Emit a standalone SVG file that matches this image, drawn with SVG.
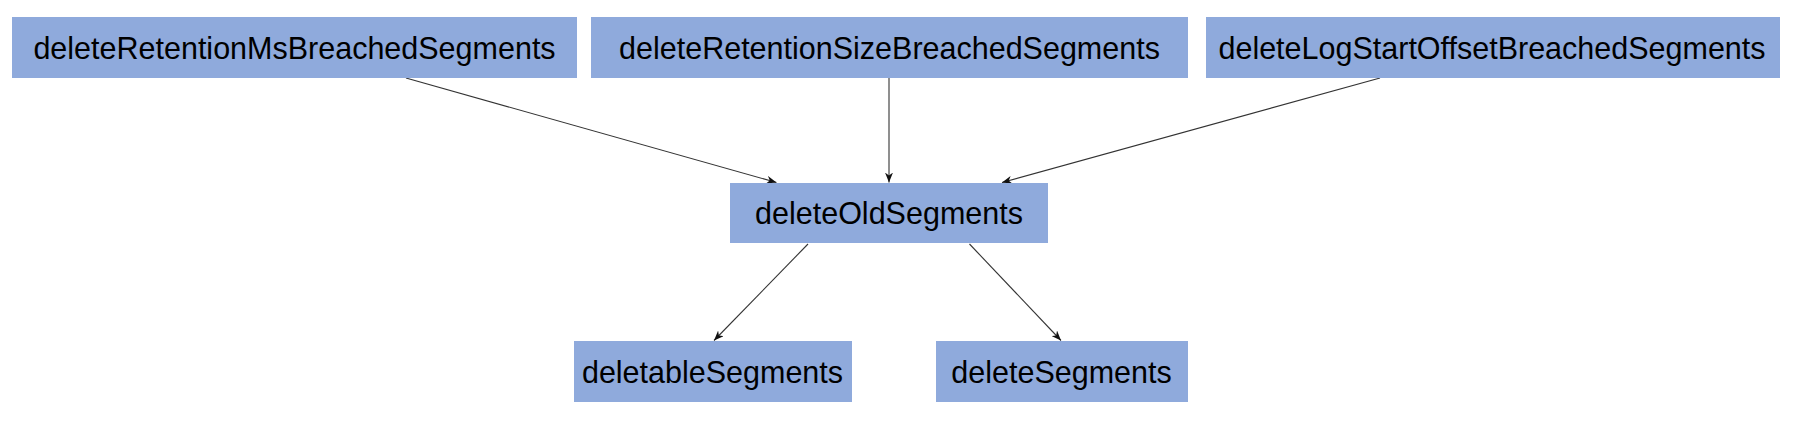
<svg xmlns="http://www.w3.org/2000/svg" width="1800" height="423" viewBox="0 0 1800 423">
<style>
.box{fill:#8FAADC;}
.lbl{font-family:"Liberation Sans",Arial,sans-serif;font-size:30.5px;fill:#000;text-anchor:middle;}
.edge{stroke:#333;stroke-width:1.1;fill:none;marker-end:url(#ah);}
</style>
<defs>
<marker id="ah" viewBox="0 0 10 8" refX="10" refY="4" markerWidth="10" markerHeight="8" markerUnits="userSpaceOnUse" orient="auto">
<path d="M0,0 L10,4 L0,8 L3,4 z" fill="#111"/>
</marker>
</defs>
<rect width="1800" height="423" fill="#fff"/>
<g id="connectors">
<line class="edge" x1="406" y1="78" x2="776.5" y2="182.5"/>
<line class="edge" x1="889" y1="78" x2="889" y2="182.5"/>
<line class="edge" x1="1380" y1="78" x2="1002" y2="182.5"/>
<line class="edge" x1="808" y1="244" x2="714" y2="340.5"/>
<line class="edge" x1="969.5" y1="244" x2="1061" y2="340.5"/>
</g>
<g id="n1"><rect class="box" x="12" y="17" width="565" height="61"/><text class="lbl" x="294.5" y="58.5">deleteRetentionMsBreachedSegments</text></g>
<g id="n2"><rect class="box" x="591" y="17" width="597" height="61"/><text class="lbl" x="889.5" y="58.5">deleteRetentionSizeBreachedSegments</text></g>
<g id="n3"><rect class="box" x="1206" y="17" width="574" height="61"/><text class="lbl" x="1492" y="58.5">deleteLogStartOffsetBreachedSegments</text></g>
<g id="n4"><rect class="box" x="730" y="183" width="318" height="60"/><text class="lbl" x="889" y="224">deleteOldSegments</text></g>
<g id="n5"><rect class="box" x="574" y="341" width="278" height="61"/><text class="lbl" x="712.5" y="382.5">deletableSegments</text></g>
<g id="n6"><rect class="box" x="936" y="341" width="252" height="61"/><text class="lbl" x="1061.5" y="382.5">deleteSegments</text></g>
</svg>
